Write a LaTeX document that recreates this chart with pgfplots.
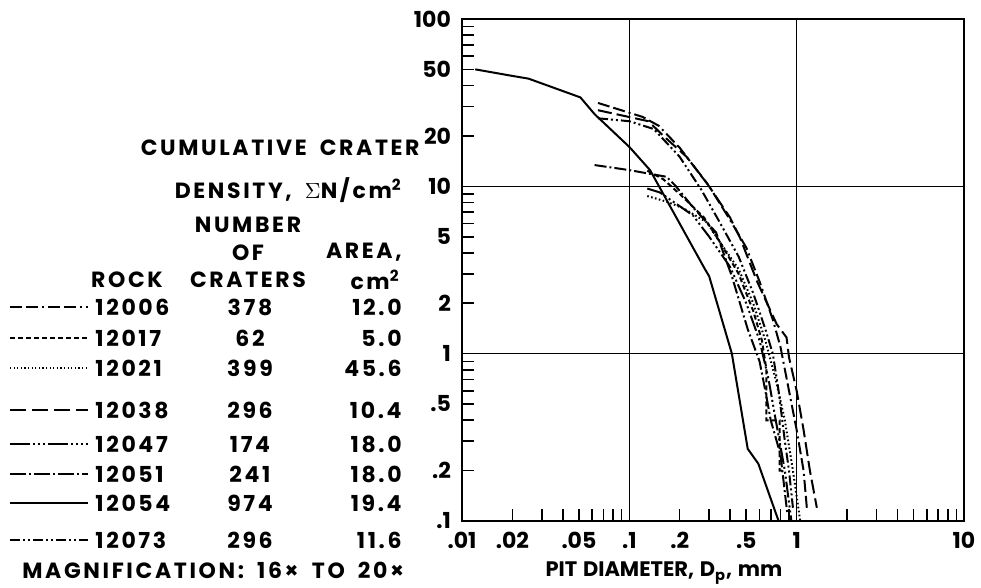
\documentclass[border=0pt]{standalone}
\usepackage{pgfplots}
\pgfplotsset{compat=1.18}
\usepackage{fontspec}
\setmainfont{Poppins}[LetterSpace=12, WordSpace=1.8]
\newfontfamily\plain{Poppins}[WordSpace=1.3]
\newcommand{\lf}{\bfseries\fontsize{11}{13}\selectfont}
\newcommand{\tf}{\plain\bfseries\fontsize{11}{13}\selectfont}
\begin{document}
\begin{tikzpicture}
\useasboundingbox (0,0) rectangle (490.5pt,294pt);
\begin{axis}[
  at={(231pt,33.5pt)}, anchor=south west,
  scale only axis, width=251pt, height=251pt,
  xmode=log, ymode=log,
  xmin=0.01, xmax=10, ymin=0.1, ymax=100,
  axis line style={line width=1pt},
  tick align=inside, xtick pos=left, ytick pos=left,
  major tick length=6pt, minor tick length=6pt,
  every tick/.style={black, line width=0.8pt},
  xtick={0.01,0.02,0.05,0.1,0.2,0.5,1,10},
  xticklabels={.01,.02,.05,.1,.2,.5,1,10},
  minor xtick={0.03,0.04,0.06,0.07,0.08,0.09,0.3,0.4,0.6,0.7,0.8,0.9,2,3,4,5,6,7,8,9},
  ytick={0.1,0.2,0.5,1,2,5,10,20,50,100},
  yticklabels={.1,.2,.5,1,2,5,10,20,50,100},
  minor ytick={0.3,0.4,0.6,0.7,0.8,0.9,3,4,6,7,8,9,30,40,60,70,80,90},
  extra x ticks={0.1,1}, extra x tick labels={,},
  extra y ticks={1,10}, extra y tick labels={,},
  extra x tick style={grid=major, major tick length=0pt},
  extra y tick style={grid=major, major tick length=0pt},
  major grid style={line width=0.8pt, black},
  tick label style={font=\tf},
  /pgf/number format/assume math mode=true,
  xticklabel style={yshift=-2pt},
  yticklabel style={xshift=-2pt},
  clip=false,
]
% 12054 solid
\addplot[line width=1pt, no marks] coordinates {(0.012,50) (0.02,45.7) (0.025,44) (0.051,34) (0.062,27) (0.1,17.2) (0.133,12.5) (0.283,3.2) (0.30,2.9) (0.41,1.0) (0.51,0.27) (0.59,0.22) (0.78,0.1)};
% 12006
\addplot[line width=1pt, no marks, dash pattern=on 6pt off 2pt on 6pt off 2pt on 1pt off 2pt] coordinates {(0.065,31.5) (0.12,26) (0.15,23) (0.2,17) (0.3,10) (0.4,6.3) (0.5,4.3) (0.6,2.7) (0.72,1.6) (0.8,1.1) (0.9,0.6) (1.0,0.35) (1.1,0.2) (1.15,0.12)};
% 12038
\addplot[line width=1pt, no marks, dash pattern=on 7pt off 2.5pt] coordinates {(0.065,28.5) (0.13,24.5) (0.16,20) (0.22,15) (0.29,10.5) (0.40,6.5) (0.46,4.9) (0.58,2.7) (0.76,1.5) (0.87,1.25) (0.9,0.95) (1.0,0.6) (1.1,0.35) (1.2,0.2) (1.32,0.12)};
% 12073
\addplot[line width=1pt, no marks, dash pattern=on 5pt off 1.5pt on 1pt off 1.5pt on 1pt off 1.5pt] coordinates {(0.065,25.5) (0.1,24.5) (0.14,22) (0.2,15) (0.27,9.5) (0.35,6) (0.45,3.8) (0.55,2.3) (0.65,1.4) (0.72,1.0) (0.78,0.6) (0.85,0.3) (0.9,0.2) (0.95,0.12)};
% 12051
\addplot[line width=1pt, no marks, dash pattern=on 6pt off 1.5pt on 1pt off 1.5pt] coordinates {(0.062,13.4) (0.1,12.5) (0.167,11.4) (0.19,10) (0.24,7.5) (0.33,5.3) (0.41,2.9) (0.51,1.4) (0.6,0.9) (0.65,0.6) (0.7,0.4) (0.8,0.25) (0.88,0.11)};
% 12017
\addplot[line width=1pt, no marks, dash pattern=on 2.5pt off 1.5pt] coordinates {(0.128,12.4) (0.16,11) (0.2,9) (0.28,6.5) (0.35,4.6) (0.45,3) (0.55,1.8) (0.62,1.2) (0.66,0.8) (0.66,0.4) (0.79,0.4) (0.79,0.2) (0.85,0.2)};
% 12047
\addplot[line width=1pt, no marks, dash pattern=on 8pt off 1.5pt on 1pt off 1.5pt on 1pt off 1.5pt on 1pt off 1.5pt] coordinates {(0.128,9.7) (0.152,9.2) (0.193,7.8) (0.24,6.7) (0.3,5) (0.4,3.3) (0.5,2) (0.6,1.2) (0.68,0.7) (0.75,0.4) (0.85,0.2) (0.93,0.1)};
% 12021
\addplot[line width=1pt, no marks, dash pattern=on 0.8pt off 1.2pt] coordinates {(0.128,8.75) (0.167,8.1) (0.21,7.4) (0.29,6.1) (0.35,4.6) (0.45,3.2) (0.55,2.0) (0.65,1.2) (0.75,0.7) (0.85,0.4) (0.95,0.2) (1.05,0.1)};
\end{axis}
\begin{scope}[x=0.5pt,y=-0.5pt,yshift=294pt]
\tikzset{every node/.style={font=\lf, inner sep=0pt}}
\node[anchor=east] at (420,148) {CUMULATIVE CRATER};
\node[anchor=east] at (402,190) {DENSITY, $\Sigma$N/cm$^{\mathbf{2}}$};
\node at (248,225) {NUMBER};
\node at (248,253) {OF};
\node at (127,280) {ROCK};
\node at (248,280) {CRATERS};
\node[anchor=east] at (402,252) {AREA,};
\node[anchor=east] at (400,280) {cm$^{\mathbf{2}}$};
\node[font=\plain\bfseries\fontsize{10.5}{12}\selectfont] at (664,573) {PIT DIAMETER, D$_{\mathbf{p}}$, mm};
\node[anchor=west] at (22,570) {MAGNIFICATION: 16× TO 20×};
% rows
\foreach \y/\r/\n/\a/\pat in {
 307/12006/378/12.0/{on 6pt off 2pt on 6pt off 2pt on 1pt off 2pt},
 338/12017/62/5.0/{on 2.5pt off 1.5pt},
 368/12021/399/45.6/{on 0.6pt off 1.2pt},
 410/12038/296/10.4/{on 8pt off 3pt},
 444/12047/174/18.0/{on 10pt off 1.5pt on 1pt off 1.5pt on 1pt off 1.5pt on 1pt off 1.5pt},
 474/12051/241/18.0/{on 8pt off 1.5pt on 1pt off 1.5pt},
 503/12054/974/19.4/{},
 540/12073/296/11.6/{on 5pt off 1.5pt on 1pt off 1.5pt on 1pt off 1.5pt}}{
  \ifx\pat\empty
    \draw[line width=0.7pt] (10,\y) -- (88,\y);
  \else
    \draw[line width=0.7pt, dash pattern/.expanded=\pat] (10,\y) -- (88,\y);
  \fi
  \node[anchor=west] at (95,\y) {\r};
  \node at (250,\y) {\n};
  \node[anchor=east] at (402,\y) {\a};
}
\end{scope}
\end{tikzpicture}
\end{document}
